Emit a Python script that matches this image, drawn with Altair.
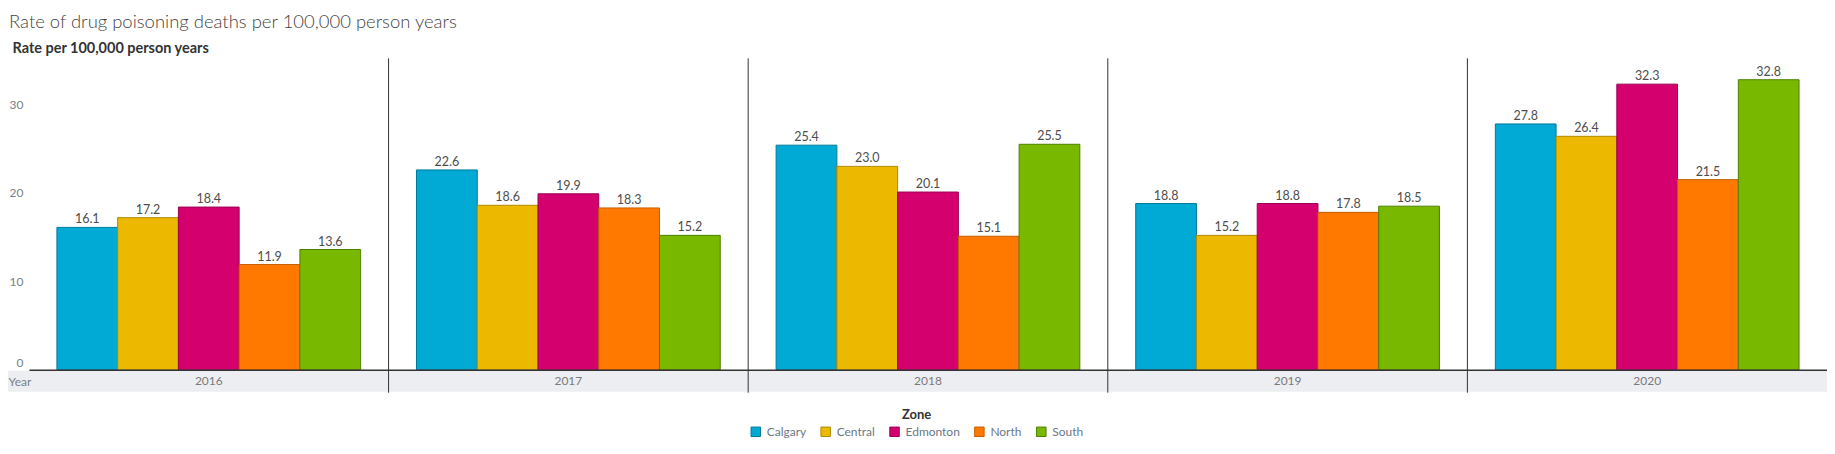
import altair as alt
import pandas as pd

years = ["2016", "2017", "2018", "2019", "2020"]
zones = ["Calgary", "Central", "Edmonton", "North", "South"]
rates = {
    "2016": [16.1, 17.2, 18.4, 11.9, 13.6],
    "2017": [22.6, 18.6, 19.9, 18.3, 15.2],
    "2018": [25.4, 23.0, 20.1, 15.1, 25.5],
    "2019": [18.8, 15.2, 18.8, 17.8, 18.5],
    "2020": [27.8, 26.4, 32.3, 21.5, 32.8],
}
fill_colors = ["#00aad4", "#ecb800", "#d4006e", "#ff7900", "#78b900"]
stroke_colors = ["#00789a", "#b08a00", "#9c0050", "#c45c00", "#4f7f00"]
divider_years = ["2017", "2018", "2019", "2020"]

rows = []
for y in years:
    for z, v in zip(zones, rates[y]):
        rows.append({"Year": y, "Zone": z, "Rate": v})
df = pd.DataFrame(rows)

W = 1801
H = 310
FONT = "Lato"

xenc = alt.X(
    "Year:N",
    sort=years,
    scale=alt.Scale(domain=years, paddingInner=0, paddingOuter=0),
    axis=alt.Axis(
        title="Year", titleX=-21, titleY=12, titleAlign="left", titleBaseline="middle",
        titleFontWeight="normal", titleColor="#7a8089", titleFontSize=12, titleFont=FONT,
        labelAngle=0, ticks=False, labelPadding=6, labelColor="#7a7a7a",
        labelFontSize=12, labelFont=FONT, domainColor="#333333", domainWidth=1.5,
        zindex=1,
    ),
)
yenc = alt.Y(
    "Rate:Q",
    scale=alt.Scale(domain=[0, 35], nice=False),
    axis=alt.Axis(
        title="Rate per 100,000 person years", titleAngle=0, titleX=-17, titleY=-12,
        titleAlign="left", titleBaseline="middle", titleFontSize=14.5, titleFontWeight="bold",
        titleColor="#333333", titleFont=FONT,
        values=[0, 10, 20, 30], grid=False, ticks=False, domain=False,
        labelColor="#7a8089", labelFontSize=12, labelPadding=6, labelFlush=True, labelFont=FONT,
    ),
)

band = alt.Chart(pd.DataFrame({"b": [1]})).mark_rect(color="#eceef1").encode(
    x=alt.value(-21), x2=alt.value(W), y=alt.value(H + 1), y2=alt.value(H + 22)
)

legend_def = dict(
    title="Zone", orient="none", direction="horizontal",
    legendX=722, legendY=349, titleAnchor="middle",
    titleFontSize=13, titleFont=FONT, titleColor="#333333",
    labelFontSize=12, labelFont=FONT, labelColor="#6b7785",
    symbolType="square", symbolSize=90, symbolStrokeWidth=1,
    columnPadding=12, labelOffset=5, titlePadding=4,
)

bars = alt.Chart(df).mark_bar(strokeWidth=1).encode(
    x=xenc,
    xOffset=alt.XOffset("Zone:N", sort=zones,
                        scale=alt.Scale(paddingInner=0, paddingOuter=0.46)),
    y=yenc,
    fill=alt.Fill("Zone:N", sort=zones,
                  scale=alt.Scale(domain=zones, range=fill_colors),
                  legend=alt.Legend(**legend_def)),
    stroke=alt.Stroke("Zone:N", sort=zones,
                      scale=alt.Scale(domain=zones, range=stroke_colors),
                      legend=alt.Legend(**legend_def)),
)

labels = alt.Chart(df).mark_text(
    baseline="alphabetic", dy=-4, fontSize=12.5, font=FONT, color="#4d4d4d"
).encode(
    x=alt.X("Year:N", sort=years),
    xOffset=alt.XOffset("Zone:N", sort=zones),
    y="Rate:Q",
    text=alt.Text("Rate:Q", format=".1f"),
)

dividers = alt.Chart(pd.DataFrame({"Year": divider_years})).mark_rule(
    color="#333333", strokeWidth=1
).encode(
    x=alt.X("Year:N", bandPosition=0),
    y=alt.value(-2),
    y2=alt.value(H + 23),
)

chart = alt.layer(band, bars, labels, dividers).properties(
    width=W,
    height=H,
    title=alt.TitleParams(
        "Rate of drug poisoning deaths per 100,000 person years",
        anchor="start", frame="group", fontSize=18.5, font=FONT, fontWeight=300,
        color="#444444", offset=9, dx=-20,
    ),
    autosize=alt.AutoSizeParams(type="none"),
    padding={"left": 21, "top": 52, "right": 0, "bottom": 80},
).configure_view(stroke=None)

chart.save("out.html", embed_options={"renderer": "svg", "actions": False})
